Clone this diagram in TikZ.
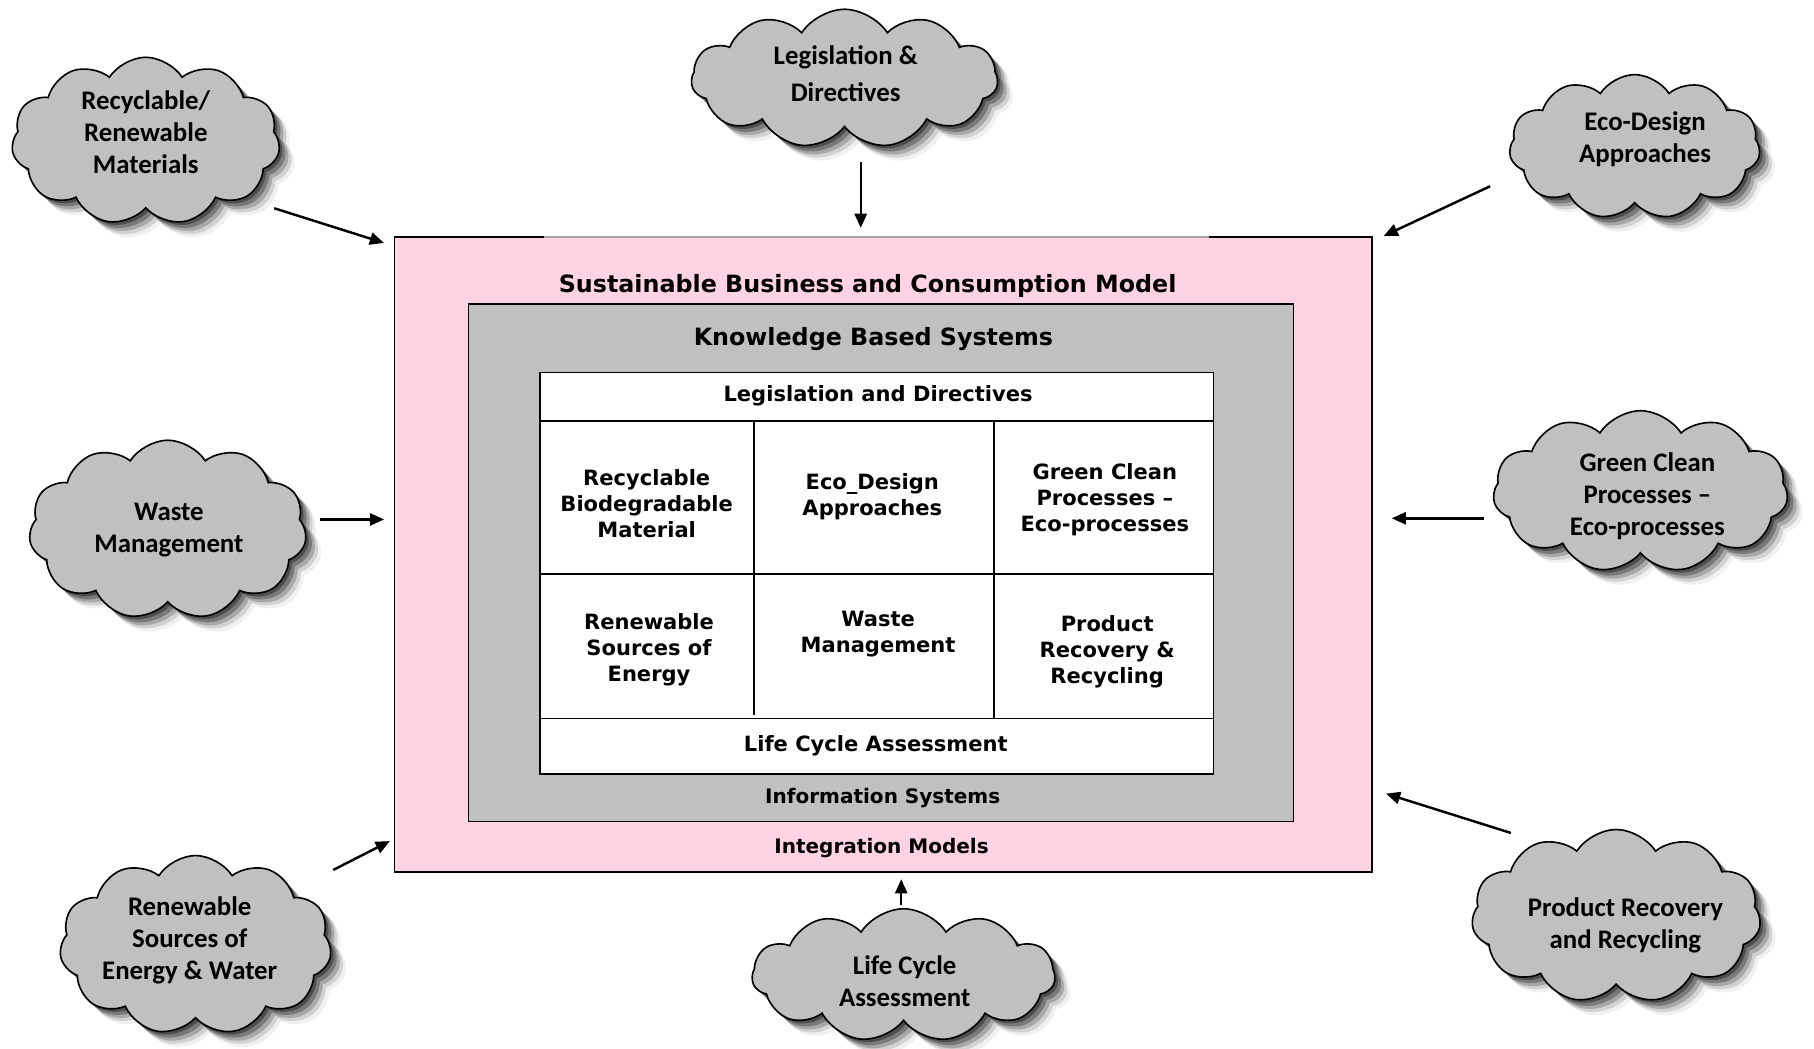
\documentclass[tikz,border=0pt]{standalone}
\usepackage{fontspec}
\setmainfont{DejaVu Sans}
\newfontfamily\cloudfont{Carlito}
\usetikzlibrary{shapes.symbols,shadows,arrows.meta}
\definecolor{pinkbg}{RGB}{255,210,228}
\definecolor{boxgray}{RGB}{192,192,192}
\definecolor{cloudgray}{RGB}{192,192,192}
\begin{document}
\begin{tikzpicture}[x=0.02cm,y=-0.02cm,
  shadowstack/.style={
    drop shadow={shadow xshift=1.5pt,shadow yshift=-1.5pt,fill=black,opacity=0.35},
    drop shadow={shadow xshift=3pt,shadow yshift=-3pt,fill=black,opacity=0.28},
    drop shadow={shadow xshift=4.5pt,shadow yshift=-4.5pt,fill=black,opacity=0.2},
    drop shadow={shadow xshift=6pt,shadow yshift=-6pt,fill=black,opacity=0.12},
    drop shadow={shadow xshift=7.5pt,shadow yshift=-7.5pt,fill=black,opacity=0.06}},
  cloudnode/.style={cloud, cloud puffs=11, cloud puff arc=115, draw=black, line width=0.8pt,
    fill=cloudgray, inner sep=0pt, shadowstack},
  cloudtext/.style={align=center, inner sep=0pt,
    font=\cloudfont\bfseries\fontsize{13.2}{15.8}\selectfont},
  cellfont/.style={font=\bfseries\fontsize{10.35}{12.8}\selectfont, align=center},
  titlefont/.style={font=\bfseries\fontsize{11.7}{14}\selectfont},
  subtitlefont/.style={font=\bfseries\fontsize{9.85}{13}\selectfont},
  arrowline/.style={line width=1.2pt, -{Triangle[length=7pt,width=6pt]}},
  boxline/.style={line width=0.8pt}
]
\useasboundingbox (0,0) rectangle (1568,906);
\fill[white] (0,0) rectangle (1568,906);

% ---------- boxes ----------
\draw[boxline, fill=pinkbg] (341,205) rectangle (1186,754);
\draw[line width=0.9pt, black!35] (470,205) -- (1045,205);
\draw[boxline, fill=boxgray] (405,263) rectangle (1118,710);
\draw[boxline, fill=white] (467,322) rectangle (1049,669);
\draw[boxline] (467,364) -- (1049,364);
\draw[boxline] (467,496) -- (1049,496);
\draw[boxline] (467,621) -- (1049,621);
\draw[boxline] (652,364) -- (652,618);
\draw[boxline] (859,364) -- (859,621);

\node[titlefont] (sbcm) at (750,247) {Sustainable Business and Consumption Model};
\node[titlefont] (kbs) at (755,293) {Knowledge Based Systems};
\node[subtitlefont] (infsys) at (763,690) {Information Systems};
\node[subtitlefont] (intmod) at (762,733) {Integration Models};

\node[cellfont] (legdir) at (759,342) {Legislation and Directives};
\node[cellfont] (recbio) at (559,435) {Recyclable\\Biodegradable\\Material};
\node[cellfont] (ecodes) at (754,429) {Eco\_Design\\Approaches};
\node[cellfont] (grncl) at (955,432) {Green Clean\\Processes –\\Eco-processes};
\node[cellfont] (rensrc) at (561,562) {Renewable\\Sources of\\Energy};
\node[cellfont] (wstmg) at (759,548) {Waste\\Management};
\node[cellfont] (prodrec) at (957,563) {Product\\Recovery \&\\Recycling};
\node[cellfont] (lca) at (757,645) {Life Cycle Assessment};

% ---------- clouds ----------
\node[cloudnode, aspect=1.6, minimum width=4.64cm, minimum height=2.9cm] (c1) at (126,122) {};
\node[cloudnode, aspect=2.2, minimum width=5.3cm, minimum height=2.4cm] (c2) at (730,68) {};
\node[cloudnode, aspect=1.74, minimum width=4.34cm, minimum height=2.5cm] (c3) at (1413,127) {};
\node[cloudnode, aspect=1.55, minimum width=4.8cm, minimum height=3.1cm] (c4) at (145,458) {};
\node[cloudnode, aspect=1.82, minimum width=5.1cm, minimum height=2.8cm] (c5) at (1418,425) {};
\node[cloudnode, aspect=1.52, minimum width=4.7cm, minimum height=3.1cm] (c6) at (169,817) {};
\node[cloudnode, aspect=2.28, minimum width=5.24cm, minimum height=2.3cm] (c7) at (781,843) {};
\node[cloudnode, aspect=1.65, minimum width=5.0cm, minimum height=3.0cm] (c8) at (1397,792) {};

\node[cloudtext] (t1) at (126,114) {Recyclable/\\Renewable\\Materials};
\node[cloudtext, font=\cloudfont\bfseries\fontsize{13.2}{18.1}\selectfont] (t2) at (731,64) {Legislation \&\\Directives};
\node[cloudtext] (t3) at (1422,120) {Eco-Design\\Approaches};
\node[cloudtext] (t4) at (146,458) {Waste\\Management};
\node[cloudtext] (t5) at (1424,429) {Green Clean\\Processes –\\Eco-processes};
\node[cloudtext] (t6) at (164,813) {Renewable\\Sources of\\Energy \& Water};
\node[cloudtext] (t7) at (782,848) {Life Cycle\\Assessment};
\node[cloudtext] (t8) at (1405,800) {Product Recovery\\and Recycling};

% ---------- arrows ----------
\coordinate (a1s) at (237,180); \coordinate (a1e) at (332,210);
\coordinate (a2s) at (744,140); \coordinate (a2e) at (744,197);
\coordinate (a3s) at (1288,161); \coordinate (a3e) at (1196,204);
\coordinate (a4s) at (277,449); \coordinate (a4e) at (332,449);
\coordinate (a5s) at (1283,448); \coordinate (a5e) at (1203,448);
\coordinate (a6s) at (288,752); \coordinate (a6e) at (337,727);
\coordinate (a7s) at (779,782); \coordinate (a7e) at (779,760);
\coordinate (a8s) at (1306,720); \coordinate (a8e) at (1198,686);
\foreach \i in {1,...,8} { \draw[arrowline] (a\i s) -- (a\i e); }
\end{tikzpicture}
\end{document}
